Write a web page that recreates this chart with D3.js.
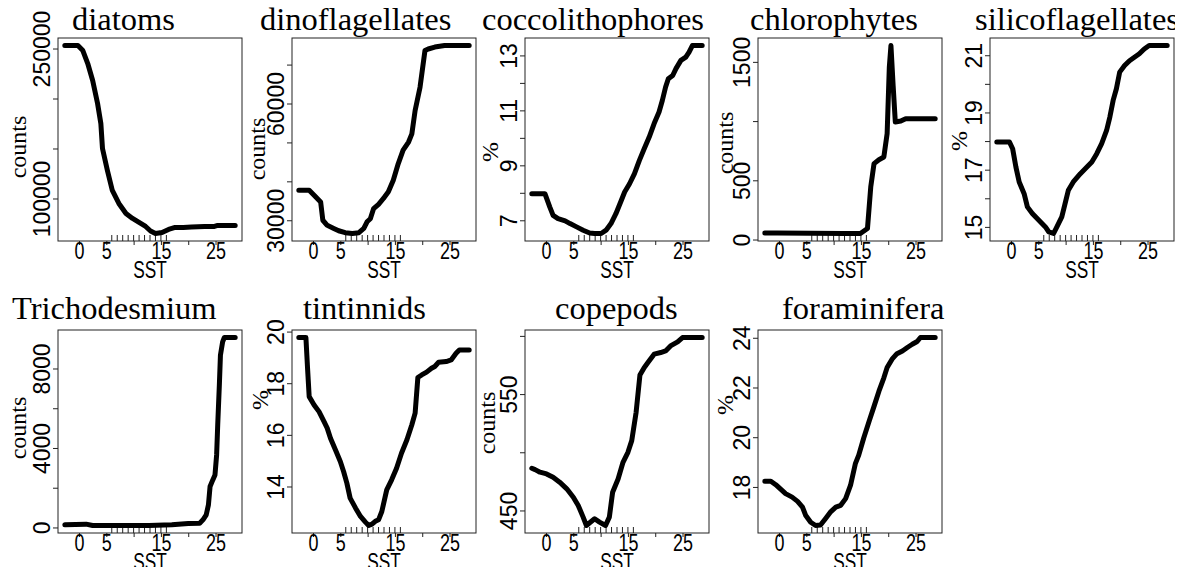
<!DOCTYPE html>
<html>
<head>
<meta charset="utf-8">
<script src="https://cdn.jsdelivr.net/npm/d3@7"></script>
<style>
  body { margin: 0; background: #fff; }
  svg { display: block; }
  .title { font-family: "Liberation Serif", "Times New Roman", serif; font-size: 32.5px; fill: #000; }
  .ylab { font-family: "Liberation Serif", "Times New Roman", serif; font-size: 24px; fill: #000; }
  .tick text { font-family: "Liberation Sans", Arial, sans-serif; fill: #000; }
  .ytick text { font-size: 23px; }
  .xtick text { font-size: 23px; }
  .xlab { font-family: "Liberation Sans", Arial, sans-serif; font-size: 24px; fill: #000; }
</style>
</head>
<body>
<svg id="fig" width="1192" height="575"></svg>
<script>
// panel names and y labels
const titles = ["diatoms", "dinoflagellates", "coccolithophores", "chlorophytes", "silicoflagellates",
                "Trichodesmium", "tintinnids", "copepods", "foraminifera"];
const yLabels = ["counts", "counts", "%", "counts", "%", "counts", "%", "counts", "%"];

// curves: SST and response
const diatomsSST = [-2.6, -0.2, 0.7, 1.6, 2.5, 3.4, 4.0, 4.3, 5.2, 6.1, 7.3, 8.6, 9.8, 11.0, 12.2, 13.1, 14.0, 15.2, 16.4, 17.6, 19.1, 20.6, 23.0, 24.8, 25.4, 27.2, 28.6];
const diatomsVal = [253000, 253000, 248000, 235000, 218000, 195000, 175000, 150000, 128000, 108000, 95000, 85000, 80000, 76000, 72000, 67500, 65000, 66000, 69000, 71000, 71000, 71500, 72000, 72000, 73000, 73000, 73000];

const dinoSST = [-2.6, -0.7, 0.2, 1.4, 1.8, 2.6, 3.8, 4.7, 5.9, 7.2, 8.4, 9.3, 9.9, 10.5, 11.1, 12.0, 12.9, 13.8, 14.7, 15.6, 16.5, 17.5, 18.1, 18.7, 19.6, 20.5, 21.1, 22.3, 24.1, 25.9, 28.6];
const dinoVal = [37700, 37700, 36400, 34700, 30000, 28700, 27900, 27300, 26800, 26600, 26800, 27900, 29600, 30400, 33000, 34100, 35600, 37300, 40300, 44500, 48000, 50100, 52200, 58200, 64200, 73600, 74000, 74500, 74900, 74900, 74900];

const coccoSST = [-2.6, -0.2, 0.7, 1.3, 2.2, 3.5, 4.4, 5.6, 6.8, 8.0, 8.9, 10.1, 11.0, 11.9, 12.8, 13.8, 14.4, 15.3, 16.2, 17.1, 18.0, 18.9, 19.8, 20.7, 21.3, 21.9, 22.4, 23.2, 23.8, 24.7, 25.6, 26.2, 26.8, 28.6];
const coccoVal = [7.97, 7.97, 7.48, 7.18, 7.06, 6.98, 6.88, 6.76, 6.64, 6.54, 6.52, 6.52, 6.64, 6.88, 7.24, 7.73, 8.03, 8.33, 8.70, 9.18, 9.61, 10.03, 10.52, 10.94, 11.36, 11.85, 12.15, 12.27, 12.52, 12.82, 12.94, 13.12, 13.36, 13.36];

const chloroSST = [-2.6, -0.3, 5.8, 11.9, 14.9, 16.2, 16.8, 17.4, 18.3, 19.2, 19.8, 20.2, 20.5, 20.9, 21.3, 22.3, 23.2, 25.3, 28.6];
const chloroVal = [56, 56, 53, 51, 51, 93, 444, 641, 674, 697, 894, 1456, 1638, 1300, 992, 1000, 1020, 1020, 1020];

const silicoSST = [-2.6, -0.3, 0.3, 0.9, 1.5, 2.4, 3.0, 3.9, 5.1, 6.3, 6.9, 7.8, 8.4, 9.3, 9.9, 10.5, 11.4, 12.7, 13.9, 14.8, 15.7, 16.6, 17.5, 18.1, 18.7, 19.3, 19.9, 20.8, 21.7, 22.6, 23.5, 24.4, 25.3, 26.8, 28.6];
const silicoVal = [17.97, 17.97, 17.73, 17.09, 16.57, 16.16, 15.70, 15.47, 15.23, 15.0, 14.83, 14.77, 15.0, 15.35, 15.81, 16.28, 16.57, 16.86, 17.09, 17.27, 17.56, 17.91, 18.37, 18.84, 19.42, 19.83, 20.41, 20.64, 20.81, 20.93, 21.05, 21.22, 21.34, 21.34, 21.34];

const trichoSST = [-2.6, 1.3, 2.5, 6.7, 12.8, 17.0, 20.0, 22.1, 22.7, 23.3, 23.7, 24.0, 24.5, 24.9, 25.2, 25.4, 25.7, 25.9, 26.3, 26.6, 28.6];
const trichoVal = [134, 167, 100, 100, 100, 134, 200, 218, 385, 636, 1138, 2059, 2394, 2645, 3649, 5156, 7165, 8671, 9341, 9559, 9559];

const tintSST = [-2.6, -1.3, -1.0, -0.7, 0.2, 1.1, 2.0, 2.6, 3.2, 4.1, 5.0, 5.6, 6.2, 6.8, 7.8, 8.7, 9.6, 10.2, 10.8, 11.4, 12.0, 12.6, 13.5, 14.4, 15.3, 16.2, 17.2, 18.1, 18.7, 19.2, 19.9, 20.8, 21.7, 22.3, 23.0, 24.4, 25.3, 26.2, 26.8, 28.6];
const tintVal = [19.77, 19.77, 18.58, 17.48, 17.16, 16.90, 16.52, 16.26, 15.87, 15.42, 14.97, 14.58, 14.13, 13.55, 13.16, 12.84, 12.62, 12.49, 12.54, 12.65, 12.71, 13.03, 13.87, 14.26, 14.71, 15.29, 15.81, 16.39, 16.84, 18.22, 18.32, 18.43, 18.58, 18.65, 18.81, 18.84, 18.90, 19.16, 19.29, 19.29];

const copeSST = [-2.6, -2.0, -1.1, 0.1, 1.3, 2.5, 3.8, 5.0, 5.9, 6.8, 7.4, 8.0, 8.9, 9.8, 10.9, 11.6, 12.2, 13.2, 14.1, 15.0, 15.7, 16.5, 17.2, 18.0, 18.9, 19.8, 21.0, 21.9, 22.8, 24.1, 25.0, 28.6];
const copeVal = [486.3, 485.1, 482.9, 481.4, 478.6, 474.3, 468.6, 461.4, 454.3, 444.3, 437.1, 439.4, 442.9, 440.0, 437.1, 444.3, 465.7, 477.1, 491.4, 500.0, 510.0, 534.3, 566.3, 572.9, 578.6, 584.3, 585.7, 587.1, 591.4, 594.9, 598.6, 598.6];

const foramSST = [-2.6, -1.5, -0.6, 0.3, 1.2, 2.4, 3.4, 4.3, 4.9, 5.8, 6.7, 7.6, 8.5, 9.5, 10.4, 11.3, 12.2, 13.1, 14.0, 14.6, 15.5, 16.5, 17.4, 18.3, 19.2, 19.8, 20.7, 21.6, 22.6, 23.5, 24.4, 25.3, 25.9, 28.6];
const foramVal = [18.23, 18.23, 18.09, 17.91, 17.73, 17.59, 17.42, 17.19, 16.85, 16.58, 16.45, 16.47, 16.72, 17.01, 17.19, 17.26, 17.53, 18.07, 18.95, 19.28, 19.96, 20.64, 21.24, 21.85, 22.39, 22.80, 23.14, 23.36, 23.47, 23.61, 23.74, 23.85, 24.01, 24.01];

const seriesSST = [diatomsSST, dinoSST, coccoSST, chloroSST, silicoSST, trichoSST, tintSST, copeSST, foramSST];
const seriesVal = [diatomsVal, dinoVal, coccoVal, chloroVal, silicoVal, trichoVal, tintVal, copeVal, foramVal];

// y ticks, and the labels R kept after dropping overlapping ones
const yTicks = [
  [100000, 150000, 200000, 250000],
  [30000, 40000, 50000, 60000, 70000],
  [7, 8, 9, 10, 11, 12, 13],
  [0, 500, 1000, 1500],
  [15, 16, 17, 18, 19, 20, 21],
  [0, 2000, 4000, 6000, 8000],
  [14, 16, 18, 20],
  [450, 500, 550, 600],
  [18, 20, 22, 24]
];
const yTickLabels = [
  [100000, 250000],
  [30000, 60000],
  [7, 9, 11, 13],
  [0, 500, 1500],
  [15, 17, 19, 21],
  [0, 4000, 8000],
  [14, 16, 18, 20],
  [450, 550],
  [18, 20, 22, 24]
];
const xTicks = [0, 5, 10, 15, 20, 25];
const xTickLabels = [0, 5, 15, 25];
const rugSST = [6, 7, 8, 9, 10, 11, 12, 13, 14, 15, 16];

// layout (pixels)
const boxW = 184, boxH = 203;
const colLeft = [58, 292, 525, 758, 990];
const rowTop = [38, 330];
const titleBase = [30, 319];
const titleLeft = [72, 260, 482, 750, 975, 12, 303, 555, 782];
const yLabX = [26, 265, 498, 733, 967, 26, 268, 495, 733];
const yLabY = [147, 149, 152, 143, 141, 428, 400, 423, 405];
const narrow = 0.78;   // the sans text in the figure is condensed

const svg = d3.select("#fig");
svg.append("defs").append("clipPath").attr("id", "page")
  .append("rect").attr("x", 0).attr("y", 0).attr("width", 1175).attr("height", 567);
const page = svg.append("g").attr("clip-path", "url(#page)");

// shared x range, padded 4% like R
const allSST = seriesSST.flat();
const sstExt = d3.extent(allSST);
const sstPad = (sstExt[1] - sstExt[0]) * 0.04;

titles.forEach((name, i) => {
  const row = i < 5 ? 0 : 1;
  const col = i < 5 ? i : i - 5;
  const left = colLeft[col], top = rowTop[row];

  const x = d3.scaleLinear()
    .domain([sstExt[0] - sstPad, sstExt[1] + sstPad])
    .range([0, boxW]);
  const vExt = d3.extent(seriesVal[i]);
  const vPad = (vExt[1] - vExt[0]) * 0.04;
  const y = d3.scaleLinear()
    .domain([vExt[0] - vPad, vExt[1] + vPad])
    .range([boxH, 0]);

  const g = page.append("g").attr("transform", `translate(${left},${top})`);

  // title
  page.append("text").attr("class", "title")
    .attr("x", titleLeft[i]).attr("y", titleBase[row])
    .text(name);

  // y axis
  const yAxis = g.append("g").attr("class", "ytick")
    .call(d3.axisLeft(y).tickValues(yTicks[i]).tickSize(5).tickSizeOuter(0)
      .tickFormat(d => yTickLabels[i].includes(d) ? d : ""));
  yAxis.select(".domain").remove();
  yAxis.selectAll(".tick line").attr("stroke", "#222");
  yAxis.selectAll(".tick text")
    .attr("transform", "rotate(-90)")
    .attr("text-anchor", "middle")
    .attr("x", 0).attr("y", -8).attr("dy", 0);

  // x axis
  const xAxis = g.append("g").attr("class", "xtick").attr("transform", `translate(0,${boxH})`)
    .call(d3.axisBottom(x).tickValues(xTicks).tickSize(4).tickPadding(0).tickSizeOuter(0)
      .tickFormat(d => xTickLabels.includes(d) ? d : ""));
  xAxis.select(".domain").remove();
  xAxis.selectAll(".tick line").attr("stroke", "#222");
  xAxis.selectAll(".tick text")
    .attr("y", 0).attr("dy", 0)
    .attr("transform", `translate(0,18) scale(${narrow},1)`);

  // rug
  g.selectAll(".rug").data(rugSST).join("line")
    .attr("x1", d => x(d)).attr("x2", d => x(d))
    .attr("y1", boxH).attr("y2", boxH - 6)
    .attr("stroke", "#222").attr("stroke-width", 1);

  // box
  g.append("rect").attr("width", boxW).attr("height", boxH)
    .attr("fill", "none").attr("stroke", "#222").attr("stroke-width", 1);

  // curve
  const pts = seriesSST[i].map((s, k) => [s, seriesVal[i][k]]);
  g.append("path").datum(pts)
    .attr("fill", "none").attr("stroke", "#000")
    .attr("stroke-width", 5)
    .attr("stroke-linejoin", "round").attr("stroke-linecap", "round")
    .attr("d", d3.line().x(d => x(d[0])).y(d => y(d[1])));

  // axis labels
  g.append("text").attr("class", "xlab")
    .attr("transform", `translate(${boxW / 2},${boxH + 37}) scale(0.72,1)`)
    .attr("text-anchor", "middle").text("SST");
  page.append("text").attr("class", "ylab")
    .attr("transform", `translate(${yLabX[i]},${yLabY[i]}) rotate(-90)`)
    .attr("text-anchor", "middle").text(yLabels[i]);
});
</script>
</body>
</html>
